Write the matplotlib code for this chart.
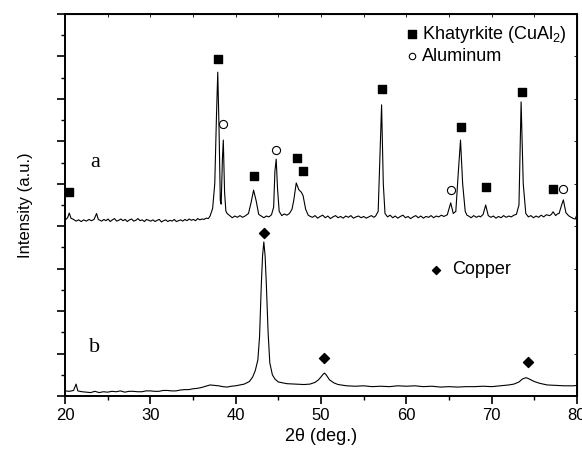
import matplotlib
matplotlib.use("Agg")
import matplotlib.pyplot as plt
from matplotlib.ticker import MultipleLocator

# ---- trace a : (2theta, intensity) -----------------------------------------
a_pts = [
    (20.0, 4.14), (20.3, 4.20), (20.5, 4.31), (20.7, 4.19), (21.0, 4.16),
    (21.3, 4.12), (21.6, 4.15), (21.9, 4.11), (22.2, 4.15), (22.5, 4.12),
    (22.8, 4.16), (23.1, 4.13), (23.4, 4.16), (23.7, 4.30), (23.9, 4.16),
    (24.1, 4.14), (24.3, 4.12), (24.55, 4.16), (24.8, 4.13), (25.05, 4.17),
    (25.3, 4.11), (25.55, 4.15), (25.8, 4.18), (26.05, 4.12), (26.3, 4.14),
    (26.55, 4.17), (26.8, 4.13), (27.05, 4.16), (27.3, 4.11), (27.55, 4.15),
    (27.8, 4.17), (28.05, 4.12), (28.3, 4.14), (28.55, 4.18), (28.8, 4.13),
    (29.05, 4.15), (29.3, 4.11), (29.55, 4.16), (29.8, 4.14), (30.05, 4.12),
    (30.3, 4.15), (30.55, 4.11), (30.8, 4.14), (31.05, 4.16), (31.3, 4.10),
    (31.55, 4.13), (31.8, 4.15), (32.05, 4.11), (32.3, 4.14), (32.55, 4.12),
    (32.8, 4.16), (33.05, 4.11), (33.3, 4.13), (33.55, 4.15), (33.8, 4.12),
    (34.05, 4.16), (34.3, 4.13), (34.55, 4.17), (34.8, 4.14), (35.05, 4.16),
    (35.3, 4.13), (35.55, 4.18), (35.8, 4.15), (36.05, 4.17), (36.3, 4.16),
    (36.55, 4.19), (36.8, 4.18), (37.0, 4.24), (37.3, 4.42), (37.55, 5.00),
    (37.75, 6.60), (37.9, 7.63), (38.05, 6.30), (38.2, 4.60), (38.3, 4.52),
    (38.45, 5.60), (38.55, 6.03), (38.7, 4.80), (38.85, 4.36), (39.0, 4.30),
    (39.3, 4.25), (39.6, 4.20), (39.9, 4.24), (40.2, 4.21), (40.5, 4.25),
    (40.8, 4.21), (41.1, 4.24), (41.5, 4.30), (41.8, 4.55), (42.1, 4.85),
    (42.4, 4.60), (42.7, 4.28), (43.0, 4.24), (43.3, 4.20), (43.6, 4.24),
    (43.9, 4.22), (44.2, 4.27), (44.45, 4.45), (44.6, 5.30), (44.75, 5.58),
    (44.9, 4.90), (45.1, 4.35), (45.4, 4.25), (45.7, 4.29), (46.0, 4.26),
    (46.3, 4.30), (46.6, 4.40), (46.8, 4.60), (47.1, 5.02), (47.4, 4.86),
    (47.7, 4.80), (47.9, 4.72), (48.2, 4.40), (48.5, 4.26), (48.75, 4.23),
    (49.0, 4.21), (49.3, 4.25), (49.6, 4.19), (49.9, 4.23), (50.2, 4.26),
    (50.5, 4.20), (50.8, 4.24), (51.1, 4.18), (51.4, 4.22), (51.7, 4.25),
    (52.0, 4.20), (52.3, 4.23), (52.6, 4.19), (52.9, 4.24), (53.2, 4.21),
    (53.5, 4.25), (53.8, 4.19), (54.1, 4.22), (54.4, 4.24), (54.7, 4.20),
    (55.0, 4.23), (55.3, 4.19), (55.6, 4.22), (55.9, 4.25), (56.2, 4.21),
    (56.4, 4.24), (56.7, 4.35), (56.9, 5.60), (57.1, 6.86), (57.3, 5.00),
    (57.5, 4.30), (57.8, 4.22), (58.1, 4.26), (58.4, 4.20), (58.7, 4.24),
    (59.0, 4.19), (59.3, 4.23), (59.6, 4.26), (59.9, 4.20), (60.2, 4.23),
    (60.5, 4.18), (60.8, 4.22), (61.1, 4.25), (61.4, 4.20), (61.7, 4.24),
    (62.0, 4.19), (62.3, 4.23), (62.6, 4.21), (62.9, 4.25), (63.2, 4.20),
    (63.5, 4.24), (63.8, 4.22), (64.1, 4.26), (64.4, 4.23), (64.8, 4.27),
    (65.2, 4.55), (65.5, 4.30), (65.8, 4.35), (66.1, 5.30), (66.35, 6.03),
    (66.6, 5.00), (66.9, 4.35), (67.1, 4.26), (67.3, 4.24), (67.6, 4.20),
    (67.9, 4.25), (68.2, 4.21), (68.5, 4.24), (68.7, 4.22), (69.0, 4.28),
    (69.3, 4.50), (69.6, 4.25), (69.9, 4.21), (70.2, 4.24), (70.5, 4.19),
    (70.8, 4.23), (71.1, 4.20), (71.4, 4.25), (71.7, 4.21), (72.0, 4.24),
    (72.3, 4.22), (72.6, 4.26), (72.9, 4.28), (73.2, 4.50), (73.45, 6.93),
    (73.7, 5.00), (74.0, 4.30), (74.3, 4.22), (74.6, 4.25), (74.9, 4.20),
    (75.2, 4.24), (75.5, 4.21), (75.8, 4.26), (76.1, 4.22), (76.4, 4.27),
    (76.8, 4.25), (77.0, 4.28), (77.2, 4.34), (77.5, 4.25), (77.7, 4.29),
    (77.9, 4.30), (78.2, 4.50), (78.4, 4.62), (78.7, 4.32), (79.0, 4.25),
    (79.3, 4.21), (79.6, 4.18), (79.8, 4.17), (80.0, 4.28),
]

# ---- trace b : reference copper ---------------------------------------------
b_pts = [
    (20.0, 0.12), (20.5, 0.11), (21.0, 0.13), (21.3, 0.28), (21.5, 0.12),
    (22.0, 0.10), (22.5, 0.09), (23.0, 0.08), (23.5, 0.11), (24.0, 0.08),
    (24.5, 0.10), (25.0, 0.09), (25.5, 0.11), (26.0, 0.10), (26.5, 0.12),
    (27.0, 0.09), (27.5, 0.11), (28.0, 0.11), (28.5, 0.10), (29.0, 0.10),
    (29.5, 0.12), (30.0, 0.12), (30.5, 0.11), (31.0, 0.11), (31.5, 0.13),
    (32.0, 0.13), (32.5, 0.12), (33.0, 0.12), (33.5, 0.14), (34.0, 0.15),
    (34.5, 0.15), (35.0, 0.17), (35.5, 0.18), (36.0, 0.20), (36.5, 0.23),
    (37.0, 0.26), (37.5, 0.25), (38.0, 0.24), (38.5, 0.22), (39.0, 0.21),
    (39.5, 0.23), (40.0, 0.24), (40.5, 0.26), (41.0, 0.28), (41.6, 0.34),
    (42.0, 0.45), (42.3, 0.60), (42.6, 0.85), (42.8, 1.40), (43.0, 2.60),
    (43.15, 3.30), (43.3, 3.63), (43.45, 3.30), (43.6, 2.60), (43.8, 1.50),
    (44.0, 0.78), (44.3, 0.50), (44.6, 0.40), (45.0, 0.33), (46.0, 0.29),
    (47.0, 0.28), (48.0, 0.27), (48.7, 0.28), (49.3, 0.32), (49.7, 0.38),
    (50.0, 0.45), (50.2, 0.50), (50.4, 0.54), (50.6, 0.50), (51.0, 0.38),
    (51.5, 0.31), (52.0, 0.27), (53.0, 0.24), (54.0, 0.23), (55.0, 0.24),
    (56.0, 0.22), (57.0, 0.23), (58.0, 0.22), (59.0, 0.24), (60.0, 0.23),
    (61.0, 0.24), (62.0, 0.22), (63.0, 0.23), (64.0, 0.21), (65.0, 0.22),
    (66.0, 0.21), (67.0, 0.22), (68.0, 0.22), (69.0, 0.23), (70.0, 0.22),
    (71.0, 0.24), (72.0, 0.26), (72.6, 0.28), (73.2, 0.33), (73.6, 0.40),
    (74.0, 0.43), (74.2, 0.42), (74.6, 0.38), (75.0, 0.34), (75.6, 0.30),
    (76.5, 0.26), (77.5, 0.25), (78.5, 0.24), (79.6, 0.24), (80.0, 0.25),
]

# ---- phase markers ------------------------------------------------------------
khat_x = [20.5, 37.9, 42.15, 47.2, 47.9, 57.1, 66.4, 69.3, 73.55, 77.2]
khat_y = [4.80, 7.95, 5.18, 5.61, 5.30, 7.23, 6.34, 4.93, 7.16, 4.88]
al_x = [38.55, 44.75, 65.2, 78.4]
al_y = [6.40, 5.80, 4.85, 4.88]
cu_x = [43.3, 50.4, 74.2]
cu_y = [3.85, 0.90, 0.80]

plt.rcParams["font.family"] = ["Liberation Sans", "DejaVu Sans"]
plt.rcParams["mathtext.default"] = "regular"

fig = plt.figure(figsize=(5.82, 4.55), dpi=100)
ax = fig.add_axes([0.1117, 0.1297, 0.8797, 0.8395])

a_x, a_y = zip(*a_pts)
b_x, b_y = zip(*b_pts)
ax.plot(a_x, a_y, color="black", lw=0.8)
ax.plot(b_x, b_y, color="black", lw=0.8)

hk = ax.scatter(khat_x, khat_y, marker="s", s=40, c="black", zorder=3,
                label="Khatyrkite (CuAl$_2$)")
ha = ax.scatter(al_x, al_y, marker="o", s=34, facecolors="white",
                edgecolors="black", linewidths=0.8, zorder=3, label="Aluminum")
hc = ax.scatter(cu_x, cu_y, marker="D", s=26, c="black", zorder=3,
                label="Copper")

leg1 = ax.legend(handles=[hk, ha], loc="upper right", frameon=False,
                 fontsize=13, handletextpad=0.1, labelspacing=0.15,
                 borderaxespad=0.15, handlelength=1.0, markerscale=0.8)
ax.add_artist(leg1)
ax.legend(handles=[hc], loc="center left", bbox_to_anchor=(0.675, 0.33),
          frameon=False, fontsize=13, handletextpad=0.4, handlelength=1.0,
          markerscale=0.8)

ax.text(23.5, 5.49, "a", family="Liberation Serif", fontsize=16,
        ha="center", va="center")
ax.text(23.5, 1.15, "b", family="Liberation Serif", fontsize=16,
        ha="center", va="center")

ax.set_xlim(20, 80)
ax.set_ylim(0, 9)
ax.xaxis.set_major_locator(MultipleLocator(10))
ax.xaxis.set_minor_locator(MultipleLocator(5))
ax.yaxis.set_major_locator(MultipleLocator(1))
ax.yaxis.set_minor_locator(MultipleLocator(0.5))
ax.set_yticklabels([])
ax.tick_params(which="major", direction="out", length=6, width=1.2,
               labelsize=12, pad=3)
ax.tick_params(which="minor", direction="out", length=3, width=1.0)
for s in ax.spines.values():
    s.set_linewidth(1.4)

# small inward ticks on the top and right frame
top = ax.secondary_xaxis("top")
top.xaxis.set_major_locator(MultipleLocator(5))
top.tick_params(direction="in", length=2, width=0.6, labeltop=False)
right = ax.secondary_yaxis("right")
right.yaxis.set_major_locator(MultipleLocator(1))
right.tick_params(direction="in", length=2, width=0.6, labelright=False)

ax.set_xlabel("2θ (deg.)", fontsize=13, labelpad=3)
ax.set_ylabel("Intensity (a.u.)", fontsize=12, labelpad=14)

fig.savefig("out.png", dpi=100)
